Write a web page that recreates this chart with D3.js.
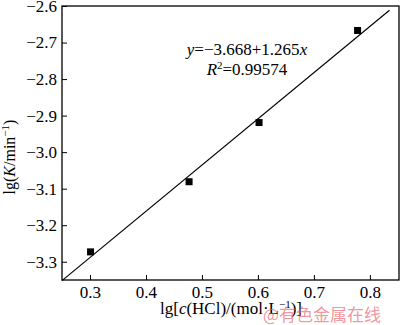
<!DOCTYPE html>
<html>
<head>
<meta charset="utf-8">
<script src="https://cdn.jsdelivr.net/npm/d3@7"></script>
<style>
body { margin: 0; background: #fff; }
svg text { font-family: "Liberation Serif", "Times New Roman", serif; fill: #000; }
</style>
</head>
<body>
<svg id="chart" width="400" height="325"></svg>
<script>
// data
var lgC = [0.301, 0.477, 0.602, 0.778];
var lgK = [-3.273, -3.081, -2.919, -2.667];
var xTicks = [0.3, 0.4, 0.5, 0.6, 0.7, 0.8];
var yTicks = [-3.3, -3.2, -3.1, -3.0, -2.9, -2.8, -2.7, -2.6];
var fitIntercept = -3.668;
var fitSlope = 1.265;
var fitRange = [0.25, 0.835];

var margin = { left: 62, right: 1, top: 6, bottom: 45 };
var width = 400, height = 325;
var serif = '"Liberation Serif", "Times New Roman", serif';

var svg = d3.select('#chart');

var x = d3.scaleLinear().domain([0.25, 0.852]).range([margin.left, width - margin.right]);
var y = d3.scaleLinear().domain([-3.35, -2.6]).range([height - margin.bottom, margin.top]);

var fmtY = function(d) { return d3.format('.1f')(d).replace('-', '\u2212'); };

// axes, ticks pointing inward
var xAxis = svg.append('g')
	.attr('transform', 'translate(0,' + y.range()[0] + ')')
	.call(d3.axisBottom(x).tickValues(xTicks).tickSizeInner(-5).tickSizeOuter(0).tickPadding(6).tickFormat(d3.format('.1f')));

var yAxis = svg.append('g')
	.attr('transform', 'translate(' + x.range()[0] + ',0)')
	.call(d3.axisLeft(y).tickValues(yTicks).tickSizeInner(-5).tickSizeOuter(0).tickPadding(5).tickFormat(fmtY));

[xAxis, yAxis].forEach(function(g) {
	g.attr('font-family', null).attr('font-size', null);
	g.select('.domain').remove();
	g.selectAll('line').attr('stroke', '#000').attr('stroke-width', 1);
	g.selectAll('text').style('font-size', '17px').style('font-family', serif);
});

// frame
svg.append('rect')
	.attr('x', x.range()[0])
	.attr('y', y.range()[1])
	.attr('width', x.range()[1] - x.range()[0])
	.attr('height', y.range()[0] - y.range()[1])
	.attr('fill', 'none')
	.attr('stroke', '#000')
	.attr('stroke-width', 1.3);

// fit line
var line = d3.line()
	.x(function(d) { return x(d); })
	.y(function(d) { return y(fitIntercept + fitSlope * d); });

svg.append('path')
	.datum(fitRange)
	.attr('d', line)
	.attr('fill', 'none')
	.attr('stroke', '#000')
	.attr('stroke-width', 1.2);

// points
svg.selectAll('.pt')
	.data(lgC.map(function(c, i) { return { x: c, y: lgK[i] }; }))
	.enter()
		.append('rect')
		.classed('pt', true)
		.attr('x', function(d) { return x(d.x) - 3.5; })
		.attr('y', function(d) { return y(d.y) - 3.5; })
		.attr('width', 7)
		.attr('height', 7)
		.attr('fill', '#000');

// equation
var eq = svg.append('text').attr('x', 247).attr('y', 55).attr('text-anchor', 'middle').style('font-size', '17px');
eq.append('tspan').attr('font-style', 'italic').text('y');
eq.append('tspan').text('=\u22123.668+1.265');
eq.append('tspan').attr('font-style', 'italic').text('x');

var r2 = svg.append('text').attr('x', 247).attr('y', 75).attr('text-anchor', 'middle').style('font-size', '17px');
r2.append('tspan').attr('font-style', 'italic').text('R');
r2.append('tspan').style('font-size', '11px').attr('dy', -6).text('2');
r2.append('tspan').attr('dy', 6).text('=0.99574');

// x label
var xl = svg.append('text').attr('x', 231).attr('y', 314).attr('text-anchor', 'middle').style('font-size', '17px');
xl.append('tspan').text('lg[');
xl.append('tspan').attr('font-style', 'italic').text('c');
xl.append('tspan').text('(HCl)/(mol\u00b7L');
xl.append('tspan').style('font-size', '11px').attr('dy', -6).text('\u22121');
xl.append('tspan').attr('dy', 6).text(')]');

// y label
var yl = svg.append('text')
	.attr('transform', 'translate(15,157) rotate(-90)')
	.attr('text-anchor', 'middle')
	.style('font-size', '16px');
yl.append('tspan').text('lg(');
yl.append('tspan').attr('font-style', 'italic').text('K');
yl.append('tspan').text('/min');
yl.append('tspan').style('font-size', '11px').attr('dy', -6).text('\u22121');
yl.append('tspan').attr('dy', 6).text(')');

// watermark
svg.append('text')
	.attr('x', 263)
	.attr('y', 321)
	.style('font-size', '17px')
	.style('font-family', '"Noto Sans CJK SC", sans-serif')
	.style('fill', 'rgba(235,90,100,0.65)')
	.text('@有色金属在线');
</script>
</body>
</html>
